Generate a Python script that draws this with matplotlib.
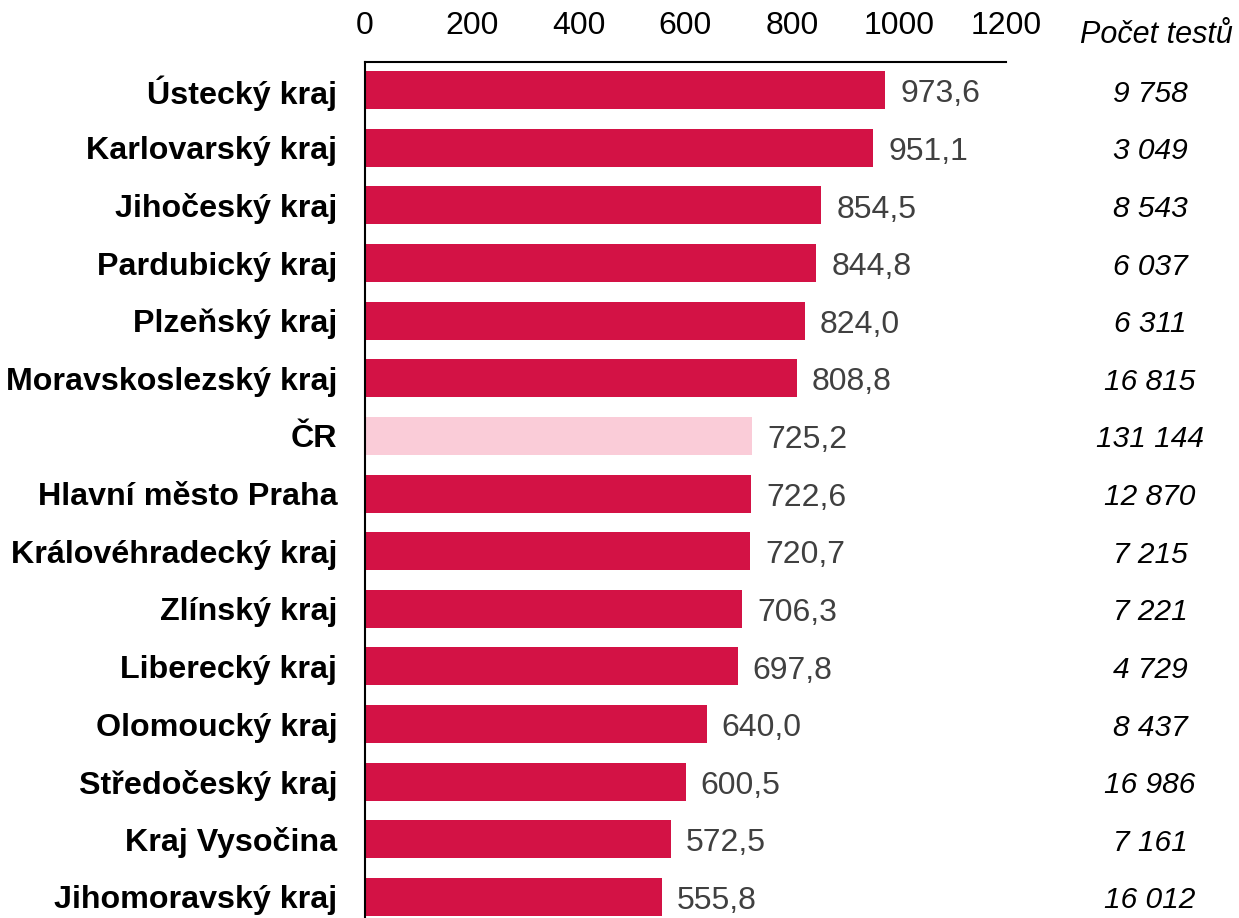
import matplotlib.pyplot as plt
import matplotlib.transforms as mtransforms

plt.rcParams['font.family'] = ['Liberation Sans', 'DejaVu Sans']

# data
regions = ['Ústecký kraj', 'Karlovarský kraj', 'Jihočeský kraj', 'Pardubický kraj',
           'Plzeňský kraj', 'Moravskoslezský kraj', 'ČR', 'Hlavní město Praha',
           'Královéhradecký kraj', 'Zlínský kraj', 'Liberecký kraj', 'Olomoucký kraj',
           'Středočeský kraj', 'Kraj Vysočina', 'Jihomoravský kraj']
values = [973.6, 951.1, 854.5, 844.8, 824.0, 808.8, 725.2, 722.6,
          720.7, 706.3, 697.8, 640.0, 600.5, 572.5, 555.8]
tests = ['9 758', '3 049', '8 543', '6 037', '6 311', '16 815', '131 144', '12 870',
         '7 215', '7 221', '4 729', '8 437', '16 986', '7 161', '16 012']
ticks = [0, 200, 400, 600, 800, 1000, 1200]

red = '#D31245'
pink = '#FACCD8'
colors = [pink if r == 'ČR' else red for r in regions]

fig = plt.figure(figsize=(12.39, 9.18), dpi=100)
ax = fig.add_axes([365 / 1239, 0, (1006 - 365) / 1239, (918 - 62) / 918])

y = list(range(len(regions)))
ax.barh(y, values, height=0.66, color=colors)
ax.set_xlim(0, 1200)
ax.set_ylim(14.365, -0.49)

ax.xaxis.tick_top()
ax.set_xticks(ticks)
ax.set_xticklabels([str(t) for t in ticks], fontsize=23)
ax.tick_params(axis='x', length=0, pad=15)
ax.set_yticks(y)
ax.set_yticklabels(regions, fontsize=23.2, fontweight='bold')
ax.tick_params(axis='y', length=0, pad=20)

for s in ['right', 'bottom']:
    ax.spines[s].set_visible(False)
ax.spines['top'].set_linewidth(1.5)
ax.spines['left'].set_linewidth(1.5)

for i, v in enumerate(values):
    ax.text(v + 28, i + 0.07, f'{v:.1f}'.replace('.', ','), va='center', ha='left',
            fontsize=23, color='#404040')

trans = mtransforms.blended_transform_factory(fig.transFigure, ax.transData)
for i, t in enumerate(tests):
    ax.text(1150 / 1239, i + 0.06, t, transform=trans, ha='center', va='center',
            fontsize=21.5, style='italic', clip_on=False)
fig.text(1156 / 1239, 1 - 35 / 918, 'Počet testů', ha='center', va='center',
         fontsize=22, style='italic')

fig.savefig('out.png', dpi=100)
